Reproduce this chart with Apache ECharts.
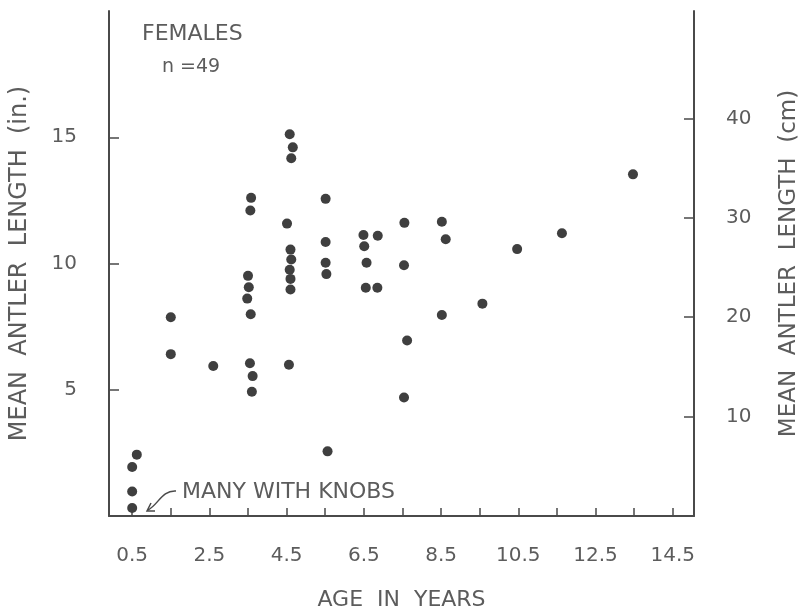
<!DOCTYPE html>
<html lang="en">
<head>
    <meta charset="UTF-8">
    <title>Females antler length</title>
    <script src="https://cdn.jsdelivr.net/npm/echarts@6/dist/echarts.min.js"></script>
</head>
<style>
    body{
        width: 100%;
        height: 100%;
        margin: 0;
        padding: 0;
        background: #fff;
    }
</style>
<body>
<div id="main" style="width: 809px;height:616px;"></div>
<script>
    // ages (years) and mean antler length (in.)
    var ages = [
        0.5, 0.5, 0.5, 0.62,
        1.5, 1.5,
        2.6,
        3.58, 3.56, 3.5, 3.52, 3.48, 3.57, 3.55, 3.62, 3.6,
        4.58, 4.66, 4.62, 4.51, 4.6, 4.62, 4.58, 4.6, 4.6, 4.56,
        5.51, 5.51, 5.51, 5.53, 5.56,
        6.49, 6.51, 6.57, 6.55,
        6.86, 6.85,
        7.55, 7.54, 7.62, 7.54,
        8.52, 8.62, 8.52,
        9.57, 10.47, 11.63, 13.47
    ];
    var lengthIn = [
        0.32, 0.97, 1.94, 2.43,
        7.87, 6.41,
        5.94,
        12.6, 12.1, 9.51, 9.06, 8.61, 7.99, 6.05, 5.54, 4.92,
        15.12, 14.6, 14.17, 11.58, 10.55, 10.16, 9.75, 9.39, 8.97, 5.99,
        12.56, 10.85, 10.03, 9.58, 2.56,
        11.13, 10.68, 10.03, 9.04,
        11.1, 9.04,
        11.61, 9.93, 6.95, 4.69,
        11.65, 10.96, 7.96,
        8.41, 10.57, 11.2, 13.53
    ];
    var xTicks = [0.5, 1.5, 2.5, 3.5, 4.5, 5.5, 6.5, 7.5, 8.5, 9.5, 10.5, 11.5, 12.5, 13.5, 14.5];
    var xLabels = [0.5, 2.5, 4.5, 6.5, 8.5, 10.5, 12.5, 14.5];
    var inTicks = [5, 10, 15];
    var cmTicks = [10, 20, 30, 40];

    var ink = '#4a4a4a';
    var txt = '#5c5c5c';
    var font = 'DejaVu Sans';

    var points = [];
    for (var i = 0; i < ages.length; i++) {
        points.push([ages[i], lengthIn[i]]);
    }

    var chart = echarts.init(document.getElementById('main'));
    var option = {
        animation: false,
        backgroundColor: '#fff',
        grid: {left: 107, right: 109, top: 11, bottom: 91},
        xAxis: {
            type: 'value',
            min: -0.1,
            max: 15.05,
            name: 'AGE  IN  YEARS',
            nameLocation: 'middle',
            nameGap: 73,
            nameTextStyle: {color: txt, fontFamily: font, fontSize: 22},
            axisLine: {show: true, onZero: false, lineStyle: {color: ink, width: 2}},
            axisTick: {show: true, inside: true, length: 8, customValues: xTicks, lineStyle: {color: ink, width: 1.5}},
            axisLabel: {
                customValues: xLabels, margin: 30, color: txt, fontFamily: font, fontSize: 20,
                formatter: function (v) { return v.toFixed(1); }
            },
            splitLine: {show: false}
        },
        yAxis: [{
            type: 'value',
            min: 0,
            max: 20,
            position: 'left',
            name: 'MEAN  ANTLER  LENGTH  (in.)',
            nameLocation: 'middle',
            nameRotate: 90,
            nameGap: 77,
            nameTextStyle: {color: txt, fontFamily: font, fontSize: 24},
            axisLine: {show: true, onZero: false, lineStyle: {color: ink, width: 2}},
            axisTick: {show: true, inside: true, length: 10, customValues: inTicks, lineStyle: {color: ink, width: 1.5}},
            axisLabel: {customValues: inTicks, margin: 32, color: txt, fontFamily: font, fontSize: 20},
            splitLine: {show: false}
        }, {
            type: 'value',
            min: 0,
            max: 50.8,
            position: 'right',
            name: 'MEAN  ANTLER  LENGTH  (cm)',
            nameLocation: 'middle',
            nameRotate: 90,
            nameGap: 84,
            nameTextStyle: {color: txt, fontFamily: font, fontSize: 23},
            axisLine: {show: true, onZero: false, lineStyle: {color: ink, width: 2}},
            axisTick: {show: true, inside: true, length: 10, customValues: cmTicks, lineStyle: {color: ink, width: 1.5}},
            axisLabel: {customValues: cmTicks, margin: 32, color: txt, fontFamily: font, fontSize: 20},
            splitLine: {show: false}
        }],
        graphic: [
            {type: 'text', left: 142, top: 23, style: {text: 'FEMALES', fill: txt, font: '22px "DejaVu Sans"'}},
            {type: 'text', left: 162, top: 58, style: {text: 'n =49', fill: txt, font: '19px "DejaVu Sans"'}},
            {type: 'text', left: 182, top: 481, style: {text: 'MANY WITH KNOBS', fill: txt, font: '22px "DejaVu Sans"'}},
            {type: 'bezierCurve', shape: {x1: 176, y1: 491, cpx1: 162, cpy1: 490, cpx2: 158, cpy2: 505, x2: 148, y2: 510},
                style: {stroke: ink, lineWidth: 1.5, fill: null}},
            {type: 'polyline', shape: {points: [[151, 503], [147, 511], [155, 511]]},
                style: {stroke: ink, lineWidth: 1.5, fill: null}}
        ],
        series: [{
            type: 'scatter',
            yAxisIndex: 0,
            symbol: 'circle',
            symbolSize: 10,
            itemStyle: {color: '#3f3f3f', opacity: 1},
            data: points
        }]
    };
    chart.setOption(option);
</script>
</body>
</html>
